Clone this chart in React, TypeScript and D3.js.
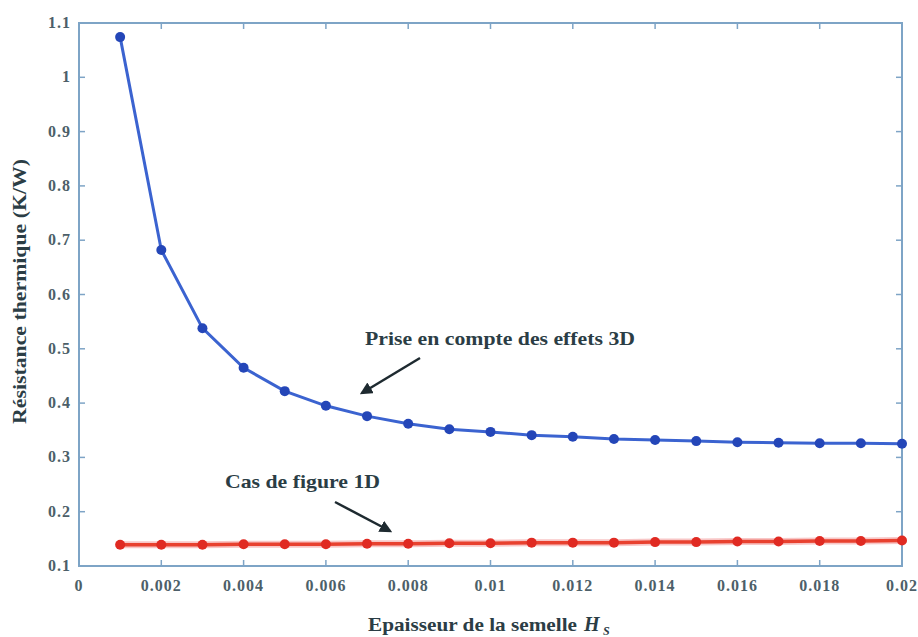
import React from "react";
import * as d3 from "d3";

const thickness = [0.001,0.002,0.003,0.004,0.005,0.006,0.007,0.008,0.009,0.010,0.011,0.012,0.013,0.014,0.015,0.016,0.017,0.018,0.019,0.020];
const resistance3D = [1.074,0.682,0.538,0.465,0.422,0.395,0.376,0.362,0.352,0.347,0.341,0.338,0.334,0.332,0.330,0.328,0.327,0.326,0.326,0.325];
const resistance1D = [0.139,0.139,0.139,0.140,0.140,0.140,0.141,0.141,0.142,0.142,0.143,0.143,0.143,0.144,0.144,0.145,0.145,0.146,0.146,0.147];
const xTicks = [0,0.002,0.004,0.006,0.008,0.01,0.012,0.014,0.016,0.018,0.02];
const yTicks = [0.1,0.2,0.3,0.4,0.5,0.6,0.7,0.8,0.9,1,1.1];
const label3D = "Prise en compte des effets 3D";
const label1D = "Cas de figure 1D";

export default function App() {
  const W = 918, H = 637;
  const L = 79, R = 902, T = 23, B = 566;
  const x = d3.scaleLinear().domain([0, 0.02]).range([L, R]);
  const y = d3.scaleLinear().domain([0.1, 1.1]).range([B, T]);
  const line = d3.line<number>().x((_, i) => x(thickness[i])).y(d => y(d));
  const axisCol = "#7ea4c6";
  const textCol = "#2b3d45";
  const font = "'Liberation Serif', 'Times New Roman', serif";
  const fmt = (v: number) => String(+v.toFixed(3));
  return (
    <svg width={W} height={H} style={{ position: "absolute", left: 0, top: 0, background: "#fff" }} fontFamily={font}>
      <defs>
        <marker id="ah" viewBox="0 0 10 10" refX="8" refY="5" markerWidth="5" markerHeight="5" orient="auto">
          <path d="M0,0 L10,5 L0,10 z" fill="#1e2a30" />
        </marker>
      </defs>
      <rect x={0} y={0} width={W} height={H} fill="#fff" />
      <rect x={L} y={T} width={R - L} height={B - T} fill="none" stroke={axisCol} strokeWidth={2} />
      {xTicks.map((t, i) => (
        <g key={"x" + i}>
          <line x1={x(t)} x2={x(t)} y1={B} y2={B - 6} stroke={axisCol} strokeWidth={1.5} />
          <line x1={x(t)} x2={x(t)} y1={T} y2={T + 6} stroke={axisCol} strokeWidth={1.5} />
          <text x={x(t)} y={B + 25} textAnchor="middle" fontSize={16} fontWeight="bold" fill="#4d5f69" letterSpacing={1}>{fmt(t)}</text>
        </g>
      ))}
      {yTicks.map((t, i) => (
        <g key={"y" + i}>
          <line x1={L} x2={L + 6} y1={y(t)} y2={y(t)} stroke={axisCol} strokeWidth={1.5} />
          <line x1={R} x2={R - 6} y1={y(t)} y2={y(t)} stroke={axisCol} strokeWidth={1.5} />
          <text x={L - 8} y={y(t) + 5} textAnchor="end" fontSize={16} fontWeight="bold" fill="#4d5f69" letterSpacing={1}>{fmt(t)}</text>
        </g>
      ))}
      <path d={line(resistance1D) || ""} fill="none" stroke="#f4a0a0" strokeWidth={7} opacity={0.6} />
      <path d={line(resistance1D) || ""} fill="none" stroke="#e8412f" strokeWidth={3.5} />
      {resistance1D.map((v, i) => (
        <circle key={"r" + i} cx={x(thickness[i])} cy={y(v)} r={5} fill="#e02a22" />
      ))}
      <path d={line(resistance3D) || ""} fill="none" stroke="#3b63d0" strokeWidth={3} />
      {resistance3D.map((v, i) => (
        <circle key={"b" + i} cx={x(thickness[i])} cy={y(v)} r={5} fill="#2446b8" />
      ))}
      <text x={365} y={345} fontSize={19} fontWeight="bold" fill={textCol} textLength={270} lengthAdjust="spacingAndGlyphs">{label3D}</text>
      <line x1={420} y1={358} x2={362} y2={393} stroke="#1e2a30" strokeWidth={2.5} markerEnd="url(#ah)" />
      <text x={225} y={488} fontSize={19} fontWeight="bold" fill={textCol} textLength={155} lengthAdjust="spacingAndGlyphs">{label1D}</text>
      <line x1={335} y1={502} x2={390} y2={531} stroke="#1e2a30" strokeWidth={2.5} markerEnd="url(#ah)" />
      <text x={368} y={631} fontSize={19} fontWeight="bold" fill={textCol} textLength={209} lengthAdjust="spacingAndGlyphs">Epaisseur de la semelle</text>
      <text x={584} y={631} fontSize={20} fontWeight="bold" fontStyle="italic" fill={textCol}>H</text>
      <text x={603} y={635} fontSize={12} fontWeight="bold" fontStyle="italic" fill={textCol}>S</text>
      <text transform={`translate(26,292) rotate(-90)`} x={-132} y={0} fontSize={18} fontWeight="bold" fill={textCol} textLength={265} lengthAdjust="spacingAndGlyphs">Résistance thermique  (K/W)</text>
    </svg>
  );
}
